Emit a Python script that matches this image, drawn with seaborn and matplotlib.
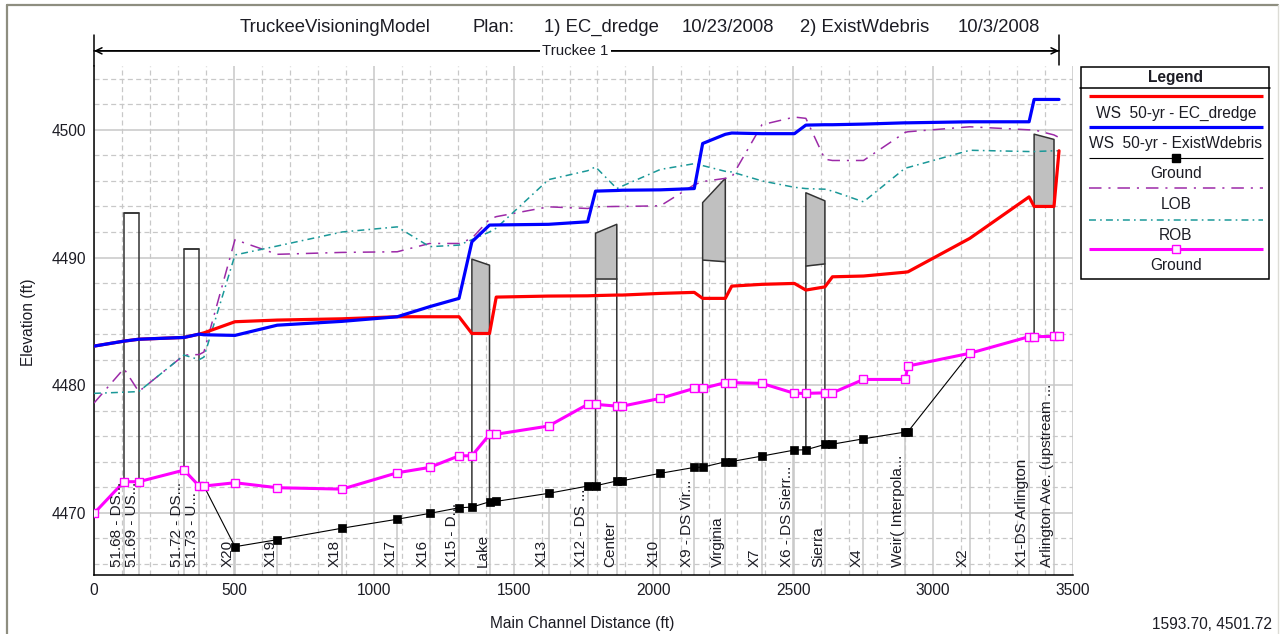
import numpy as np
import pandas as pd
import matplotlib
matplotlib.use("Agg")
import matplotlib.pyplot as plt
import matplotlib.transforms as mtransforms
from matplotlib.ticker import MultipleLocator
from matplotlib.lines import Line2D
from matplotlib.patches import Rectangle
import seaborn as sns

# ---------------------------------------------------------------- data
# main channel distance of each cross section (ft)
stations = [0, 107, 160, 322, 376, 393, 504, 655, 887, 1084, 1200, 1305, 1351,
            1414, 1438, 1625, 1765, 1793, 1869, 1889, 2025, 2146, 2176, 2257,
            2280, 2388, 2504, 2545, 2613, 2640, 2751, 2900, 2910, 3131, 3343,
            3361, 3432, 3450]

section_names = ["", "51.68 - DS...", "51.69 - US...", "51.72 - DS...",
                 "51.73 - U...", "", "X20", "X19", "X18", "X17", "X16",
                 "X15 - D...", "", "Lake", "", "X13", "X12 - DS ...", "",
                 "Center", "", "X10", "X9 - DS Vir...", "", "Virginia", "",
                 "X7", "X6 - DS Sierr...", "", "Sierra", "", "X4",
                 "Weir( Interpola...", "", "X2", "X1-DS Arlington", "",
                 "Arlington Ave. (upstream ...", ""]

ws_ec_dredge = [4483.06, 4483.45, 4483.60, 4483.74, 4484.00, 4484.10, 4484.97,
                4485.10, 4485.20, 4485.36, 4485.36, 4485.36, 4484.05, 4484.05,
                4486.90, 4486.98, 4487.00, 4487.02, 4487.06, 4487.06, 4487.19,
                4487.27, 4486.80, 4486.80, 4487.76, 4487.90, 4487.97, 4487.45,
                4487.70, 4488.49, 4488.55, 4488.85, 4488.88, 4491.50, 4494.75,
                4494.00, 4494.00, 4498.36]

ws_exist_wdebris = [4483.06, 4483.45, 4483.60, 4483.74, 4484.00, 4483.95,
                    4483.90, 4484.70, 4485.00, 4485.36, 4486.15, 4486.80,
                    4491.23, 4492.54, 4492.55, 4492.60, 4492.80, 4495.20,
                    4495.25, 4495.27, 4495.30, 4495.40, 4498.93, 4499.65,
                    4499.75, 4499.70, 4499.70, 4500.37, 4500.40, 4500.40,
                    4500.45, 4500.55, 4500.55, 4500.63, 4500.63, 4502.38,
                    4502.38, 4502.38]

ground_ec_dredge = [4469.96, 4472.44, 4472.44, 4473.35, 4472.10, 4472.10,
                    4467.35, 4467.90, 4468.80, 4469.50, 4469.96, 4470.40,
                    4470.45, 4470.87, 4470.90, 4471.53, 4472.10, 4472.12,
                    4472.50, 4472.52, 4473.10, 4473.56, 4473.58, 4474.00,
                    4474.02, 4474.45, 4474.92, 4474.94, 4475.36, 4475.38,
                    4475.80, 4476.33, 4476.36, 4482.50, 4483.80, 4483.80,
                    4483.82, 4483.82]

ground_exist = [4469.96, 4472.44, 4472.44, 4473.35, 4472.10, 4472.10, 4472.36,
                4471.97, 4471.86, 4473.14, 4473.56, 4474.47, 4474.47, 4476.14,
                4476.16, 4476.80, 4478.50, 4478.50, 4478.36, 4478.36, 4478.97,
                4479.75, 4479.75, 4480.20, 4480.20, 4480.14, 4479.36, 4479.36,
                4479.40, 4479.40, 4480.45, 4480.45, 4481.50, 4482.50, 4483.80,
                4483.80, 4483.82, 4483.82]

lob = [4478.60, 4481.30, 4479.50, 4482.36, 4482.40, 4482.60, 4491.40, 4490.25,
       4490.40, 4490.45, 4491.10, 4491.10, 4491.50, 4493.00, 4493.20, 4493.97,
       4493.84, 4493.97, 4494.00, 4494.00, 4494.05, 4495.70, 4495.95, 4496.20,
       4496.30, 4500.40, 4501.00, 4500.90, 4497.70, 4497.60, 4497.60, 4499.80,
       4499.85, 4500.24, 4500.00, 4500.00, 4499.60, 4499.40]

rob = [4479.36, 4479.45, 4479.50, 4482.36, 4482.00, 4482.20, 4490.20, 4490.90,
       4492.00, 4492.40, 4490.85, 4490.97, 4491.40, 4492.00, 4492.30, 4496.10,
       4496.80, 4497.10, 4495.40, 4495.60, 4496.90, 4497.35, 4497.20, 4496.75,
       4496.70, 4496.00, 4495.50, 4495.40, 4495.35, 4495.20, 4494.36, 4497.00,
       4497.05, 4498.40, 4498.30, 4498.30, 4498.36, 4498.36]

# bridges / culverts: downstream and upstream faces, high chord and low chord
bridge_ds = [107, 322, 1351, 1793, 2176, 2545, 3361]
bridge_us = [160, 376, 1414, 1869, 2257, 2613, 3432]
high_chord_ds = [4493.45, 4490.66, 4489.87, 4491.90, 4494.30, 4495.07, 4499.66]
high_chord_us = [4493.45, 4490.66, 4489.40, 4492.60, 4496.20, 4494.44, 4499.25]
low_chord_ds = [4493.45, 4490.66, 4484.05, 4488.30, 4489.80, 4489.33, 4494.00]
low_chord_us = [4493.45, 4490.66, 4484.05, 4488.30, 4489.67, 4489.50, 4494.00]

x_ticks = [0, 500, 1000, 1500, 2000, 2500, 3000, 3500]
y_ticks = [4470, 4480, 4490, 4500]

title_parts = ["TruckeeVisioningModel", "Plan:", "1) EC_dredge", "10/23/2008",
               "2) ExistWdebris", "10/3/2008"]
reach_name = "Truckee 1"
legend_labels = ["WS  50-yr - EC_dredge", "WS  50-yr - ExistWdebris", "Ground",
                 "LOB", "ROB", "Ground"]

profile = pd.DataFrame({
    "station": stations,
    "ws_ec_dredge": ws_ec_dredge,
    "ws_exist_wdebris": ws_exist_wdebris,
    "ground_ec_dredge": ground_ec_dredge,
    "ground_exist": ground_exist,
    "lob": lob,
    "rob": rob,
})

# ---------------------------------------------------------------- style
sns.set_style("white")
plt.rcParams["font.family"] = ["Liberation Sans", "DejaVu Sans"]
plt.rcParams["lines.scale_dashes"] = False
plt.rcParams["axes.unicode_minus"] = False

W, H = 1287, 634
TXT = "#1c1c24"
RED = "#ff0000"
BLUE = "#0000ff"
MAGENTA = "#ff00ff"
PURPLE = "#9c2aa8"
TEAL = "#1a9898"
GRID = "#c8c8c8"
DECK = "#c0c0c0"
EDGE = "#333333"
LOB_DASH = (0, (9.0, 5.0, 1.5, 5.0))
ROB_DASH = (0, (5.0, 3.0, 1.2, 3.0))


def fx(px):
    return px / W


def fy(py):
    return 1 - py / H


fig = plt.figure(figsize=(W / 100, H / 100), dpi=100)
fig.patch.set_facecolor("white")

# outer window frame
fig.add_artist(Line2D([fx(7), fx(7)], [0, fy(5)], color="#8e8e80", lw=1.6))
fig.add_artist(Line2D([fx(7), fx(1278)], [fy(5), fy(5)], color="#8e8e80", lw=1.6))
fig.add_artist(Line2D([fx(1278), fx(1278)], [0, fy(5)], color="#dcdcd6", lw=1.0))

ax = fig.add_axes([fx(94), fy(575.3), fx(1073) - fx(94), fy(66) - fy(575.3)])
y0, y1 = 4465.11, 4505.0
ax.set_xlim(0, 3500)
ax.set_ylim(y0, y1)

ax.set_xticks(x_ticks)
ax.set_yticks(y_ticks)
ax.xaxis.set_minor_locator(MultipleLocator(100))
ax.yaxis.set_minor_locator(MultipleLocator(2))
ax.set_axisbelow(True)
ax.grid(which="major", color=GRID, lw=1.1, ls="-")
ax.grid(which="minor", color=GRID, lw=0.9, ls=(0, (3.6, 2.4)))
ax.tick_params(which="both", direction="out", length=2.4, width=0.8,
               color="black", labelsize=11.2, labelcolor=TXT, pad=3.0)
for side in ("top", "right"):
    ax.spines[side].set_visible(False)
for side in ("left", "bottom"):
    ax.spines[side].set_color("black")
    ax.spines[side].set_linewidth(1.1)

# light station lines below the ground at each labelled section
labelled = [i for i, n in enumerate(section_names) if n]
ax.vlines([stations[i] for i in labelled], y0,
          [ground_ec_dredge[i] for i in labelled], colors=GRID, lw=1.1, zorder=1)

# bridge decks and piers
for xd, xu, hd, hu, ld, lu in zip(bridge_ds, bridge_us, high_chord_ds,
                                  high_chord_us, low_chord_ds, low_chord_us):
    gd = np.interp(xd, stations, ground_ec_dredge)
    gu = np.interp(xu, stations, ground_ec_dredge)
    ax.fill_between([xd, xu], [ld, lu], [hd, hu], color=DECK, lw=0, zorder=2)
    ax.plot([xd, xd, xu, xu], [gd, hd, hu, gu], color=EDGE, lw=1.1, zorder=2.5)
    ax.plot([xd, xu], [ld, lu], color=EDGE, lw=1.1, zorder=2.5)

# bank stations
sns.lineplot(data=profile, x="station", y="lob", ax=ax, color=PURPLE, lw=1.1,
             ls=LOB_DASH, sort=False, estimator=None, zorder=3)
sns.lineplot(data=profile, x="station", y="rob", ax=ax, color=TEAL, lw=1.1,
             ls=ROB_DASH, sort=False, estimator=None, zorder=3)

# water surfaces
sns.lineplot(data=profile, x="station", y="ws_ec_dredge", ax=ax, color=RED,
             lw=2.3, sort=False, estimator=None, zorder=4)
sns.lineplot(data=profile, x="station", y="ws_exist_wdebris", ax=ax,
             color=BLUE, lw=2.3, sort=False, estimator=None, zorder=4.5)

# channel inverts
sns.lineplot(data=profile, x="station", y="ground_ec_dredge", ax=ax,
             color="black", lw=0.8, marker="s", markersize=5.6,
             markerfacecolor="black", markeredgecolor="black",
             markeredgewidth=0.5, sort=False, estimator=None, zorder=5)
sns.lineplot(data=profile, x="station", y="ground_exist", ax=ax,
             color=MAGENTA, lw=2.2, marker="s", markersize=5.2,
             markerfacecolor="#fff4ff", markeredgecolor=MAGENTA,
             markeredgewidth=1.0, sort=False, estimator=None, zorder=5.5)

ax.set_xlabel("")
ax.set_ylabel("")

# cross-section names along the bottom
lab_tr = mtransforms.blended_transform_factory(ax.transData, ax.transAxes)
for i in labelled:
    ax.text(stations[i], 0.0163, section_names[i], rotation=90, ha="right",
            va="bottom", transform=lab_tr, fontsize=11, color=TXT, zorder=6)

# reach extent arrow above the plot
y_arrow = 4500 + (129.7 - 50.7) / 12.767
y_top = 4500 + (129.7 - 35.0) / 12.767
y_tick_low = 4500 + (129.7 - 65.0) / 12.767
ax.annotate("", xy=(stations[0], y_arrow), xytext=(stations[-1], y_arrow),
            arrowprops=dict(arrowstyle="->,head_length=0.45,head_width=0.22",
                            color="black", lw=1.1, shrinkA=0, shrinkB=0),
            annotation_clip=False)
ax.annotate("", xy=(stations[-1], y_arrow), xytext=(stations[0], y_arrow),
            arrowprops=dict(arrowstyle="->,head_length=0.45,head_width=0.22",
                            color="black", lw=1.1, shrinkA=0, shrinkB=0),
            annotation_clip=False)
ax.plot([stations[0], stations[0]], [y1, y_top], color="black", lw=1.1,
        clip_on=False)
ax.plot([stations[-1], stations[-1]], [y_tick_low, y_top], color="black",
        lw=1.1, clip_on=False)
ax.text((stations[0] + stations[-1]) / 2 - 4, y_arrow, reach_name,
        ha="center", va="center", fontsize=10.8, color=TXT, zorder=7,
        bbox=dict(facecolor="white", edgecolor="none", pad=1.5), clip_on=False)

# header line
for txt, left in zip(title_parts, [240, 472.7, 544.3, 681.7, 800, 957.7]):
    fig.text(fx(left), fy(31.7), txt, ha="left", va="baseline", fontsize=13.3,
             color=TXT)

# axis titles and cursor readout
fig.text(fx(581.7), fy(628.3), "Main Channel Distance (ft)", ha="center",
         va="baseline", fontsize=11.2, color=TXT)
fig.text(fx(36.5), fy(322), "Elevation (ft)", rotation=90, ha="right",
         va="center", fontsize=11.2, color=TXT)
fig.text(fx(1151.7), fy(629.3), "1593.70, 4501.72", ha="left", va="baseline",
         fontsize=11.2, color=TXT)

# legend panel
lx0, lx1, ly0, ly1 = 1080.3, 1270.0, 66.0, 279.3
lax = fig.add_axes([fx(lx0), fy(ly1), fx(lx1) - fx(lx0), fy(ly0) - fy(ly1)])
lax.set_xlim(lx0, lx1)
lax.set_ylim(ly1, ly0)
lax.axis("off")
lax.add_patch(Rectangle((lx0 + 0.6, ly0 + 0.6), lx1 - lx0 - 1.2, ly1 - ly0 - 1.2,
                        fill=False, edgecolor="black", lw=1.1, clip_on=False))
lax.plot([lx0, lx1], [88.3, 88.3], color="black", lw=1.1, clip_on=False)
lax.text(1175.5, 81.7, "Legend", ha="center", va="baseline", fontsize=11.2,
         fontweight="bold", color=TXT)

legend_styles = [
    dict(color=RED, lw=2.3),
    dict(color=BLUE, lw=2.3),
    dict(color="black", lw=0.8),
    dict(color=PURPLE, lw=1.1, ls=LOB_DASH),
    dict(color=TEAL, lw=1.1, ls=ROB_DASH),
    dict(color=MAGENTA, lw=2.2),
]
legend_markers = [None, None,
                  dict(marker="s", markersize=5.6, markerfacecolor="black",
                       markeredgecolor="black"),
                  None, None,
                  dict(marker="s", markersize=5.2, markerfacecolor="#fff4ff",
                       markeredgecolor=MAGENTA, markeredgewidth=1.0)]
line_rows = [96.0, 127.3, 158.3, 188.3, 220.0, 249.3]
text_rows = [118.3, 148.3, 178.3, 209.3, 240.0, 270.0]
for label, style, mk, yl, yt in zip(legend_labels, legend_styles,
                                    legend_markers, line_rows, text_rows):
    lax.plot([1089.3, 1263.3], [yl, yl], solid_capstyle="butt", **style)
    if mk:
        lax.plot([1176.5], [yl], ls="none", **mk)
    lax.text(1176.0, yt, label, ha="center", va="baseline", fontsize=11.2,
             color=TXT)

fig.savefig("out.png", dpi=100, facecolor="white")
